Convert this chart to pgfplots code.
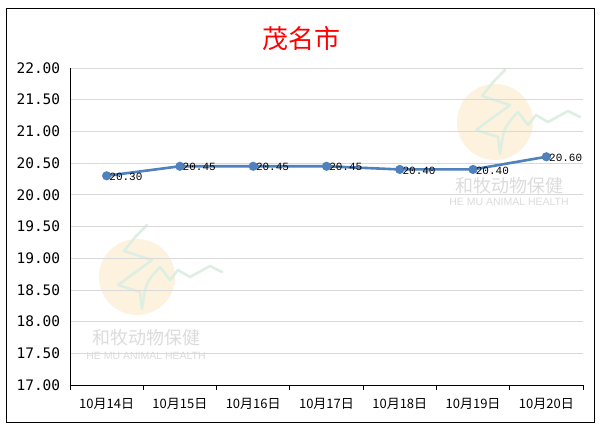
\documentclass[border=0pt]{standalone}
\usepackage{fontspec}
\usepackage{pgfplots}
\pgfplotsset{compat=1.18}
\newfontfamily\cjk{Noto Sans CJK SC}
\newfontfamily\ymono{DejaVu Sans Mono}
\newfontfamily\lmono{Liberation Mono}
\setmainfont{Liberation Sans}
\definecolor{linec}{HTML}{4F81BD}
\definecolor{gridc}{HTML}{D9D9D9}
\definecolor{wmcirc}{HTML}{FDF2DE}
\definecolor{wmtext}{HTML}{DCDCDC}
\definecolor{wmgreen}{HTML}{DDEEE2}
\begin{document}
\begin{tikzpicture}[x=1pt,y=1pt]
\fill[white] (0,0) rectangle (600,432);
\draw[black,line width=1pt] (6.5,9.5) rectangle (594.5,423.5);
% watermarks
\fill[wmcirc] (137,155) circle (38);
\fill[wmcirc] (495,310) circle (38);
\draw[wmgreen,line width=2.5pt,line cap=round,line join=round] (147,207) .. controls (135,195) .. (124,181) -- (152,172) .. controls (135,160) .. (118,147) -- (140,140) -- (142,123) .. controls (146,150) .. (160,165) -- (170,152) -- (178,162) -- (190,155) -- (210,166) -- (222,160);
\draw[wmgreen,line width=2.5pt,line cap=round,line join=round] (505,362) .. controls (493,350) .. (482,336) -- (510,327) .. controls (493,315) .. (476,302) -- (498,295) -- (500,278) .. controls (504,305) .. (518,320) -- (528,307) -- (536,317) -- (548,310) -- (568,321) -- (580,315);
\node[wmtext,font=\cjk\fontsize{18}{18}\selectfont] at (146,94) {和牧动物保健};
\node[wmtext,font=\fontsize{10.5}{11}\selectfont] at (146,76) {HE MU ANIMAL HEALTH};
\node[wmtext,font=\cjk\fontsize{18}{18}\selectfont] at (509,246) {和牧动物保健};
\node[wmtext,font=\fontsize{10.5}{11}\selectfont] at (509,230) {HE MU ANIMAL HEALTH};
% title
\node[red,font=\cjk\fontsize{26}{28}\selectfont] at (301,393) {茂名市};
\begin{axis}[
  at={(70pt,47pt)}, anchor=south west,
  scale only axis, width=513pt, height=317pt,
  xmin=-0.5, xmax=6.5, ymin=17, ymax=22,
  axis lines*=left,
  axis line style={black, line width=0.8pt},
  xtick={0,...,6},
  xticklabels={10月14日,10月15日,10月16日,10月17日,10月18日,10月19日,10月20日},
  minor xtick={-0.5,0.5,...,6.5},
  major x tick style={draw=none},
  minor x tick style={black, line width=0.8pt},
  minor tick length=5pt,
  tick align=outside,
  xticklabel style={font=\cjk\fontsize{13}{15}\selectfont, yshift=-5pt},
  ytick={17,17.5,...,22},
  ytick style={draw=none},
  ymajorgrids,
  grid style={gridc, line width=0.8pt},
  yticklabel style={font=\ymono\fontsize{14.5}{16}\selectfont, xshift=-2pt},
  yticklabel={\pgfmathprintnumber[fixed,fixed zerofill,precision=2]{\tick}},
  /pgf/number format/assume math mode=true,
  clip=false,
  nodes near coords,
  nodes near coords style={anchor=west, font=\lmono\fontsize{11}{12}\selectfont, black, inner sep=1.5pt, yshift=-1pt,
     /pgf/number format/.cd, fixed, fixed zerofill, precision=2},
]
\addplot[color=linec, line width=2.6pt, mark=*, mark size=3.2pt, mark options={fill=linec, draw=linec}]
  coordinates {(0,20.30) (1,20.45) (2,20.45) (3,20.45) (4,20.40) (5,20.40) (6,20.60)};
\end{axis}
\end{tikzpicture}
\end{document}
